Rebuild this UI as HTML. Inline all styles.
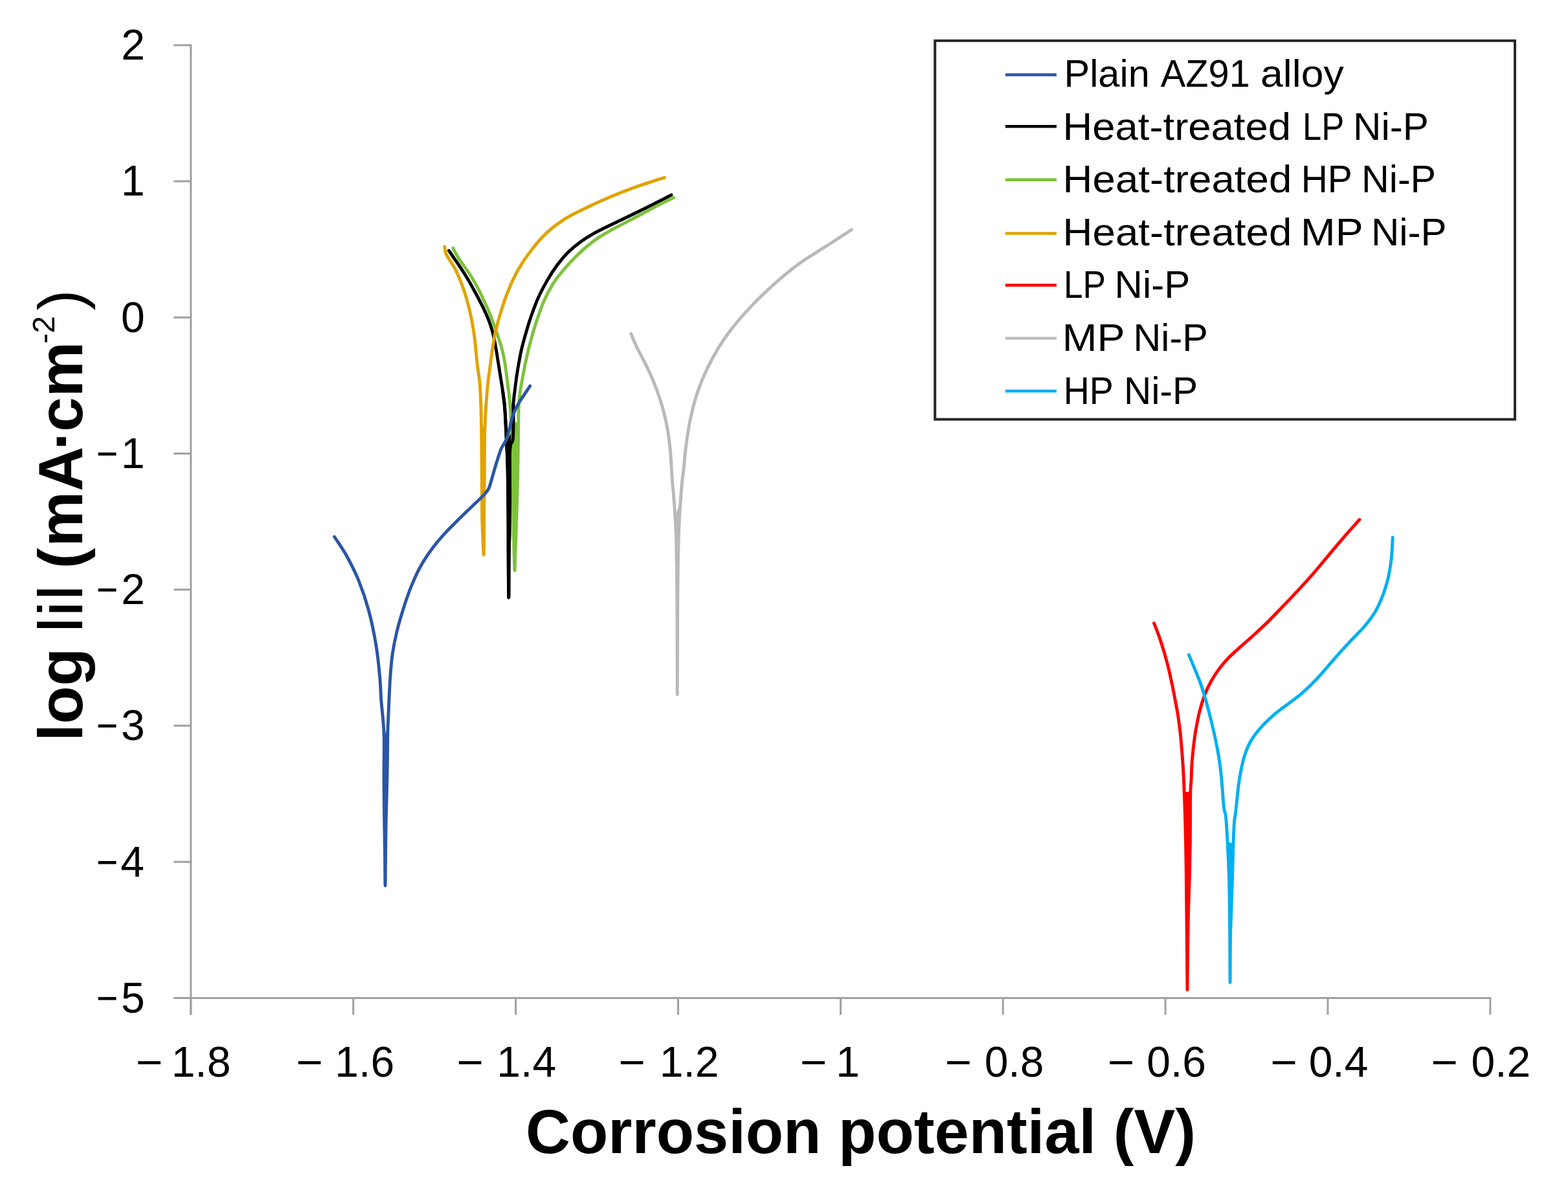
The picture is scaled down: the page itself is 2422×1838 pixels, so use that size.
<!DOCTYPE html>
<html><head><meta charset="utf-8"><title>Polarization curves</title>
<style>html,body{margin:0;padding:0;background:#fff;}svg{display:block;}</style>
</head><body>
<svg width="2422" height="1838" viewBox="0 0 2422 1838">
<rect width="2422" height="1838" fill="#fff"/>
<g stroke="#a0a0a0" stroke-width="3" fill="none" stroke-linecap="butt">
<line x1="294.8" y1="68.3" x2="294.8" y2="1567.4"/>
<line x1="268.3" y1="1541.4" x2="2303.4" y2="1541.4"/>
<line x1="268.3" y1="1541.4" x2="294.8" y2="1541.4"/>
<line x1="268.3" y1="1331.2" x2="294.8" y2="1331.2"/>
<line x1="268.3" y1="1120.9" x2="294.8" y2="1120.9"/>
<line x1="268.3" y1="910.7" x2="294.8" y2="910.7"/>
<line x1="268.3" y1="700.5" x2="294.8" y2="700.5"/>
<line x1="268.3" y1="490.3" x2="294.8" y2="490.3"/>
<line x1="268.3" y1="280.0" x2="294.8" y2="280.0"/>
<line x1="268.3" y1="69.8" x2="294.8" y2="69.8"/>
<line x1="294.8" y1="1541.4" x2="294.8" y2="1567.4"/>
<line x1="545.7" y1="1541.4" x2="545.7" y2="1567.4"/>
<line x1="796.6" y1="1541.4" x2="796.6" y2="1567.4"/>
<line x1="1047.5" y1="1541.4" x2="1047.5" y2="1567.4"/>
<line x1="1298.4" y1="1541.4" x2="1298.4" y2="1567.4"/>
<line x1="1549.2" y1="1541.4" x2="1549.2" y2="1567.4"/>
<line x1="1800.1" y1="1541.4" x2="1800.1" y2="1567.4"/>
<line x1="2051.0" y1="1541.4" x2="2051.0" y2="1567.4"/>
<line x1="2301.9" y1="1541.4" x2="2301.9" y2="1567.4"/>
</g>
<g font-family="'Liberation Sans', sans-serif" font-size="66" fill="#000">
<text x="149.1" y="1563.7" textLength="33.4" lengthAdjust="spacingAndGlyphs">−</text>
<text x="223.8" y="1563.7" text-anchor="end">5</text>
<text x="149.1" y="1353.5" textLength="33.4" lengthAdjust="spacingAndGlyphs">−</text>
<text x="222.9" y="1353.5" text-anchor="end">4</text>
<text x="149.1" y="1143.2" textLength="33.4" lengthAdjust="spacingAndGlyphs">−</text>
<text x="223.8" y="1143.2" text-anchor="end">3</text>
<text x="149.1" y="933.0" textLength="33.4" lengthAdjust="spacingAndGlyphs">−</text>
<text x="224.0" y="933.0" text-anchor="end">2</text>
<text x="149.1" y="722.8" textLength="33.4" lengthAdjust="spacingAndGlyphs">−</text>
<text x="223.8" y="722.8" text-anchor="end">1</text>
<text x="223.8" y="512.6" text-anchor="end">0</text>
<text x="223.8" y="302.3" text-anchor="end">1</text>
<text x="224.0" y="92.1" text-anchor="end">2</text>
<text x="210.0" y="1662.5" textLength="41.6" lengthAdjust="spacingAndGlyphs">−</text>
<text x="356.4" y="1662.5" text-anchor="end">1.8</text>
<text x="457.4" y="1662.5" textLength="41.6" lengthAdjust="spacingAndGlyphs">−</text>
<text x="609.1" y="1662.5" text-anchor="end">1.6</text>
<text x="705.6" y="1662.5" textLength="41.6" lengthAdjust="spacingAndGlyphs">−</text>
<text x="859.1" y="1662.5" text-anchor="end">1.4</text>
<text x="955.4" y="1662.5" textLength="41.6" lengthAdjust="spacingAndGlyphs">−</text>
<text x="1110.5" y="1662.5" text-anchor="end">1.2</text>
<text x="1235.9" y="1662.5" textLength="41.6" lengthAdjust="spacingAndGlyphs">−</text>
<text x="1328.0" y="1662.5" text-anchor="end">1</text>
<text x="1459.7" y="1662.5" textLength="41.6" lengthAdjust="spacingAndGlyphs">−</text>
<text x="1612.4" y="1662.5" text-anchor="end">0.8</text>
<text x="1711.1" y="1662.5" textLength="41.6" lengthAdjust="spacingAndGlyphs">−</text>
<text x="1863.0" y="1662.5" text-anchor="end">0.6</text>
<text x="1962.4" y="1662.5" textLength="41.6" lengthAdjust="spacingAndGlyphs">−</text>
<text x="2113.4" y="1662.5" text-anchor="end">0.4</text>
<text x="2210.4" y="1662.5" textLength="41.6" lengthAdjust="spacingAndGlyphs">−</text>
<text x="2364.2" y="1662.5" text-anchor="end">0.2</text>
</g>
<text x="812" y="1781" font-family="'Liberation Sans', sans-serif" font-weight="bold" font-size="96" textLength="1035" lengthAdjust="spacingAndGlyphs">Corrosion potential (V)</text>
<text transform="translate(127,1145) rotate(-90)" font-family="'Liberation Sans', sans-serif" font-weight="bold" font-size="96"><tspan x="0.2" y="0">log </tspan><tspan x="167.5" y="0" font-weight="normal" textLength="74.5" lengthAdjust="spacingAndGlyphs">lil</tspan><tspan x="266.7" y="0">(</tspan><tspan x="300.6" y="0">mA</tspan><tspan x="449.8" y="0">·</tspan><tspan x="478.25" y="0">cm</tspan><tspan x="614.2" y="-43" font-size="48" font-weight="normal">-2</tspan><tspan x="665.4" y="0" font-weight="normal">)</tspan></text>
<g fill="none" stroke-width="4.9" stroke-linejoin="round" stroke-linecap="round">
<path d="M782.5,682.9 C782.8,690.2 783.8,708.6 784.2,727.0 C784.6,745.4 784.8,770.8 785.0,793.0 C785.2,815.2 785.1,838.3 785.2,860.0 C785.3,881.7 785.6,923.0 785.8,923.0 C786.0,923.0 785.9,881.7 786.2,860.0 C786.5,838.3 787.4,815.2 787.6,793.0 C787.8,770.8 787.5,742.5 787.5,727.0 C787.5,711.5 787.2,706.8 787.5,700.0 C787.8,693.2 788.2,689.3 789.0,686.0 C789.8,682.7 791.4,684.3 792.0,680.0 C792.6,675.7 792.8,663.3 792.9,660.0 Z" fill="#000000" stroke="none"/>
<path d="M693.3,387.0 C694.8,389.1 699.1,395.4 702.0,399.8 C705.0,404.1 707.9,408.2 711.2,413.2 C714.5,418.2 718.1,423.7 721.8,429.8 C725.4,436.0 729.7,443.5 733.2,450.0 C736.8,456.5 740.2,463.1 743.0,468.7 C745.9,474.3 748.1,478.8 750.4,483.9 C752.6,488.9 754.6,493.5 756.4,498.8 C758.2,504.0 759.9,509.0 761.4,515.2 C763.0,521.5 764.3,528.6 765.7,536.1 C767.1,543.6 768.4,552.4 769.6,560.2 C770.9,568.0 772.1,575.5 773.2,582.9 C774.4,590.2 775.6,597.2 776.6,604.3 C777.6,611.4 778.6,618.6 779.3,625.7 C780.0,632.8 780.2,637.5 780.7,647.0 C781.2,656.5 781.9,669.6 782.5,682.9 C783.1,696.2 783.8,708.6 784.2,727.0 C784.6,745.4 784.8,770.8 785.0,793.0 C785.2,815.2 785.1,838.3 785.2,860.0 C785.3,881.7 785.6,923.0 785.8,923.0 C786.0,923.0 785.9,881.7 786.2,860.0 C786.5,838.3 787.4,815.2 787.6,793.0 C787.8,770.8 787.5,742.5 787.5,727.0 C787.5,711.5 787.2,706.8 787.5,700.0 C787.8,693.2 788.2,689.3 789.0,686.0 C789.8,682.7 791.4,684.3 792.0,680.0 C792.6,675.7 792.8,669.0 792.9,660.0 C793.0,651.0 792.4,635.9 792.9,625.7 C793.4,615.5 794.8,606.9 795.7,598.9 C796.7,590.8 797.6,584.0 798.6,577.5 C799.6,570.9 800.6,565.2 801.6,559.6 C802.6,554.0 803.3,549.5 804.6,543.7 C805.9,537.9 807.1,532.9 809.4,524.6 C811.8,516.3 815.0,504.7 818.5,494.1 C822.1,483.6 826.5,471.2 830.9,461.1 C835.3,451.0 840.1,442.1 845.0,433.6 C849.9,425.0 855.0,417.1 860.4,409.8 C865.8,402.5 871.3,395.9 877.4,389.8 C883.5,383.8 890.1,378.4 896.8,373.5 C903.5,368.6 910.4,364.4 917.6,360.4 C924.8,356.3 931.8,353.1 940.0,349.0 C948.1,345.0 957.6,340.6 966.7,336.2 C975.9,331.8 986.4,326.7 995.0,322.5 C1003.6,318.3 1011.5,314.3 1018.5,310.8 C1025.5,307.2 1033.9,302.7 1037.0,301.1" stroke="#000000"/>
<path d="M789.3,647.0 C789.7,652.0 791.0,661.0 791.5,677.0 C792.0,693.0 791.9,718.0 792.2,743.0 C792.5,768.0 793.0,804.2 793.5,827.0 C794.0,849.8 794.6,874.5 795.0,880.0 C795.4,885.5 795.3,868.8 795.6,860.0 C795.9,851.2 796.4,846.5 797.0,827.0 C797.6,807.5 798.9,767.5 799.5,743.0 C800.1,718.5 800.3,694.8 800.5,680.0 C800.7,665.2 800.7,658.6 800.7,654.3 Z" fill="#7dc23a" stroke="none"/>
<path d="M700.0,383.3 C700.7,384.7 702.5,388.9 704.1,391.8 C705.8,394.8 707.4,397.5 709.8,401.0 C712.2,404.6 715.2,408.6 718.4,413.2 C721.6,417.9 725.6,423.1 729.1,428.9 C732.7,434.8 736.5,441.7 739.8,448.2 C743.2,454.7 746.4,461.9 749.1,467.8 C751.9,473.7 754.1,478.6 756.3,483.9 C758.4,489.1 760.0,493.6 762.0,499.2 C764.1,504.9 766.3,510.9 768.5,517.5 C770.8,524.1 773.5,531.8 775.4,539.1 C777.3,546.4 778.8,554.1 780.0,561.4 C781.2,568.7 781.9,575.7 782.9,582.9 C783.8,590.0 784.9,597.2 785.7,604.3 C786.5,611.4 787.3,618.6 787.9,625.7 C788.5,632.8 788.7,638.5 789.3,647.0 C789.9,655.5 791.0,661.0 791.5,677.0 C792.0,693.0 791.9,718.0 792.2,743.0 C792.5,768.0 793.0,804.2 793.5,827.0 C794.0,849.8 794.6,874.5 795.0,880.0 C795.4,885.5 795.3,868.8 795.6,860.0 C795.9,851.2 796.4,846.5 797.0,827.0 C797.6,807.5 798.9,767.5 799.5,743.0 C800.1,718.5 800.3,694.8 800.5,680.0 C800.7,665.2 800.6,663.3 800.7,654.3 C800.9,645.2 800.9,634.0 801.4,625.7 C801.9,617.4 802.6,611.4 803.6,604.3 C804.6,597.2 806.0,590.0 807.3,582.9 C808.6,575.7 809.8,569.1 811.4,561.4 C813.0,553.7 814.6,546.4 817.1,536.7 C819.6,527.0 822.8,514.9 826.5,503.2 C830.3,491.6 834.8,477.6 839.4,466.7 C844.1,455.8 849.2,446.4 854.5,437.8 C859.8,429.3 865.7,422.6 871.5,415.7 C877.3,408.8 883.4,402.3 889.3,396.4 C895.3,390.4 901.2,385.0 907.2,380.0 C913.2,375.0 918.6,370.9 925.1,366.6 C931.5,362.3 938.0,358.8 945.9,354.4 C953.8,350.0 963.8,345.1 972.7,340.4 C981.6,335.7 991.5,330.4 999.5,326.1 C1007.5,321.8 1014.1,318.3 1020.9,314.8 C1027.8,311.3 1037.3,306.9 1040.6,305.3" stroke="#7dc23a"/>
<path d="M776.6,604.3 C777.0,607.9 778.6,618.6 779.3,625.7 C780.0,632.8 780.2,637.5 780.7,647.0 C781.2,656.5 781.9,669.6 782.5,682.9 C783.1,696.2 783.8,708.6 784.2,727.0 C784.6,745.4 784.8,770.8 785.0,793.0 C785.2,815.2 785.1,838.3 785.2,860.0 C785.3,881.7 785.6,923.0 785.8,923.0 C786.0,923.0 785.9,881.7 786.2,860.0 C786.5,838.3 787.4,815.2 787.6,793.0 C787.8,770.8 787.5,742.5 787.5,727.0 C787.5,711.5 787.2,706.8 787.5,700.0 C787.8,693.2 788.2,689.3 789.0,686.0 C789.8,682.7 791.4,684.3 792.0,680.0 C792.6,675.7 792.8,669.0 792.9,660.0 C793.0,651.0 792.9,631.4 792.9,625.7" stroke="#000000"/>
<path d="M743.6,660.0 C743.7,666.7 743.9,686.7 744.0,700.0 C744.1,713.3 744.2,723.3 744.3,740.0 C744.4,756.7 744.4,783.3 744.7,800.0 C745.0,816.7 745.9,830.5 746.3,840.0 C746.7,849.5 746.9,857.0 747.1,857.0 C747.3,857.0 747.6,849.5 747.7,840.0 C747.8,830.5 747.5,816.7 747.6,800.0 C747.7,783.3 748.1,756.7 748.2,740.0 C748.3,723.3 748.3,713.3 748.4,700.0 C748.5,686.7 748.9,666.7 749.0,660.0 Z" fill="#e0a300" stroke="none"/>
<path d="M686.7,380.8 C687.1,382.7 687.6,388.6 688.9,392.1 C690.3,395.7 692.6,398.5 694.8,402.1 C696.9,405.7 699.6,409.0 702.1,413.6 C704.6,418.2 707.1,423.7 709.6,429.8 C712.1,435.9 714.9,443.1 717.2,450.0 C719.5,456.9 721.5,464.0 723.4,471.4 C725.3,478.8 727.1,486.5 728.6,494.3 C730.1,502.1 731.5,510.4 732.6,518.2 C733.7,526.1 734.2,533.6 735.1,541.5 C735.9,549.5 736.6,557.7 737.6,566.2 C738.6,574.7 740.3,581.5 741.2,592.4 C742.1,603.3 742.6,620.4 743.0,631.7 C743.4,643.0 743.4,648.6 743.6,660.0 C743.8,671.4 743.9,686.7 744.0,700.0 C744.1,713.3 744.2,723.3 744.3,740.0 C744.4,756.7 744.4,783.3 744.7,800.0 C745.0,816.7 745.9,830.5 746.3,840.0 C746.7,849.5 746.9,857.0 747.1,857.0 C747.3,857.0 747.6,849.5 747.7,840.0 C747.8,830.5 747.5,816.7 747.6,800.0 C747.7,783.3 748.1,756.7 748.2,740.0 C748.3,723.3 748.3,713.3 748.4,700.0 C748.5,686.7 748.6,671.7 749.0,660.0 C749.4,648.3 750.0,638.3 750.5,630.0 C751.0,621.7 751.5,616.6 752.0,610.0 C752.5,603.4 752.9,597.5 753.8,590.2 C754.6,583.0 755.9,574.4 757.0,566.2 C758.1,558.0 759.1,549.3 760.4,540.8 C761.7,532.3 762.7,524.7 764.7,515.3 C766.8,505.9 769.4,495.6 772.8,484.6 C776.1,473.6 780.3,460.6 785.0,449.2 C789.6,437.8 794.5,426.9 800.4,416.5 C806.3,406.1 812.8,396.4 820.3,386.9 C827.7,377.3 836.1,367.4 845.0,359.1 C853.9,350.9 863.5,343.9 873.9,337.4 C884.2,330.9 895.7,325.7 907.2,320.2 C918.7,314.6 930.5,309.3 942.9,304.1 C955.3,298.9 967.8,293.9 981.7,288.9 C995.5,283.9 1018.9,276.7 1026.3,274.3" stroke="#e0a300"/>
<path d="M1043.0,800.0 C1043.3,806.2 1044.2,820.3 1044.6,837.0 C1045.0,853.7 1045.4,879.5 1045.6,900.0 C1045.8,920.5 1045.9,931.2 1046.0,960.0 C1046.1,988.8 1046.1,1072.6 1046.2,1072.6 C1046.3,1072.6 1046.5,988.8 1046.6,960.0 C1046.7,931.2 1046.8,920.5 1047.0,900.0 C1047.2,879.5 1047.6,853.7 1048.0,837.0 C1048.4,820.3 1048.9,811.2 1049.5,800.0 C1050.1,788.8 1051.2,775.0 1051.5,770.0 Z" fill="#b9b9b9" stroke="none"/>
<path d="M974.7,515.4 C976.2,518.8 980.3,529.3 983.5,536.0 C986.7,542.8 990.3,548.9 994.0,556.2 C997.6,563.4 1001.5,570.7 1005.3,579.4 C1009.1,588.1 1013.1,598.1 1016.6,608.2 C1020.1,618.3 1023.6,629.5 1026.2,639.9 C1028.8,650.3 1030.7,660.0 1032.3,670.5 C1033.9,681.0 1034.9,691.0 1035.9,702.6 C1036.8,714.2 1037.4,729.6 1038.2,740.0 C1039.0,750.4 1039.7,755.0 1040.5,765.0 C1041.3,775.0 1042.3,788.0 1043.0,800.0 C1043.7,812.0 1044.2,820.3 1044.6,837.0 C1045.0,853.7 1045.4,879.5 1045.6,900.0 C1045.8,920.5 1045.9,931.2 1046.0,960.0 C1046.1,988.8 1046.1,1072.6 1046.2,1072.6 C1046.3,1072.6 1046.5,988.8 1046.6,960.0 C1046.7,931.2 1046.8,920.5 1047.0,900.0 C1047.2,879.5 1047.6,853.7 1048.0,837.0 C1048.4,820.3 1048.9,811.2 1049.5,800.0 C1050.1,788.8 1050.8,779.2 1051.5,770.0 C1052.2,760.8 1052.8,752.5 1053.5,745.0 C1054.2,737.5 1055.1,733.4 1056.0,725.0 C1056.9,716.6 1057.5,706.0 1059.0,694.4 C1060.4,682.7 1062.4,668.1 1064.8,655.2 C1067.3,642.4 1070.3,629.1 1073.8,617.3 C1077.2,605.5 1081.1,595.2 1085.6,584.5 C1090.1,573.7 1095.2,563.2 1100.9,552.8 C1106.5,542.4 1112.9,531.9 1119.6,522.2 C1126.3,512.5 1133.7,503.2 1141.1,494.5 C1148.4,485.7 1156.0,477.6 1163.7,469.6 C1171.4,461.6 1179.5,453.7 1187.5,446.4 C1195.4,439.0 1203.7,431.7 1211.2,425.4 C1218.8,419.1 1225.2,413.9 1232.8,408.4 C1240.3,403.0 1247.8,398.3 1256.5,392.6 C1265.3,386.9 1275.6,380.5 1285.4,374.2 C1295.2,367.9 1310.4,357.9 1315.4,354.7" stroke="#b9b9b9"/>
<path d="M1829.2,1223.0 C1829.4,1229.2 1830.1,1247.2 1830.5,1260.0 C1830.9,1272.8 1831.2,1285.0 1831.5,1300.0 C1831.8,1315.0 1832.1,1333.3 1832.3,1350.0 C1832.5,1366.7 1832.6,1385.0 1832.8,1400.0 C1833.0,1415.0 1833.1,1426.7 1833.2,1440.0 C1833.3,1453.3 1833.5,1465.2 1833.6,1480.0 C1833.7,1494.8 1833.9,1528.8 1834.0,1528.8 C1834.1,1528.8 1834.2,1494.8 1834.4,1480.0 C1834.6,1465.2 1834.8,1453.3 1835.0,1440.0 C1835.2,1426.7 1835.4,1415.0 1835.8,1400.0 C1836.2,1385.0 1837.0,1366.7 1837.4,1350.0 C1837.8,1333.3 1838.2,1315.0 1838.4,1300.0 C1838.6,1285.0 1838.5,1272.8 1838.6,1260.0 C1838.7,1247.2 1838.8,1229.2 1838.8,1223.0 Z" fill="#ff0000" stroke="none"/>
<path d="M1782.5,962.5 C1783.8,965.7 1787.5,974.8 1790.0,981.9 C1792.5,989.0 1795.1,997.0 1797.5,1005.0 C1799.9,1013.0 1802.3,1021.7 1804.4,1030.0 C1806.5,1038.3 1808.2,1046.7 1810.0,1055.0 C1811.8,1063.3 1813.4,1071.5 1815.0,1080.0 C1816.6,1088.5 1818.3,1097.0 1819.7,1106.2 C1821.1,1115.5 1822.4,1125.6 1823.5,1135.6 C1824.5,1145.6 1825.3,1156.4 1826.1,1166.2 C1826.9,1176.1 1827.5,1185.5 1828.0,1195.0 C1828.5,1204.5 1828.8,1212.2 1829.2,1223.0 C1829.6,1233.8 1830.1,1247.2 1830.5,1260.0 C1830.9,1272.8 1831.2,1285.0 1831.5,1300.0 C1831.8,1315.0 1832.1,1333.3 1832.3,1350.0 C1832.5,1366.7 1832.6,1385.0 1832.8,1400.0 C1833.0,1415.0 1833.1,1426.7 1833.2,1440.0 C1833.3,1453.3 1833.5,1465.2 1833.6,1480.0 C1833.7,1494.8 1833.9,1528.8 1834.0,1528.8 C1834.1,1528.8 1834.2,1494.8 1834.4,1480.0 C1834.6,1465.2 1834.8,1453.3 1835.0,1440.0 C1835.2,1426.7 1835.4,1415.0 1835.8,1400.0 C1836.2,1385.0 1837.0,1366.7 1837.4,1350.0 C1837.8,1333.3 1838.2,1315.0 1838.4,1300.0 C1838.6,1285.0 1838.5,1272.8 1838.6,1260.0 C1838.7,1247.2 1838.6,1232.2 1838.8,1223.0 C1839.0,1213.8 1839.6,1212.2 1840.0,1205.0 C1840.4,1197.8 1840.4,1188.3 1841.0,1180.0 C1841.6,1171.7 1842.3,1163.6 1843.3,1155.0 C1844.3,1146.4 1845.4,1137.4 1847.0,1128.1 C1848.6,1118.9 1850.6,1108.4 1852.8,1099.4 C1855.1,1090.3 1857.7,1081.6 1860.6,1073.8 C1863.6,1065.9 1866.9,1059.3 1870.6,1052.5 C1874.4,1045.7 1878.5,1039.3 1883.1,1033.1 C1887.7,1027.0 1892.7,1021.2 1898.1,1015.6 C1903.5,1010.0 1909.3,1005.1 1915.6,999.4 C1922.0,993.6 1929.1,987.8 1936.2,981.2 C1943.4,974.7 1951.2,967.4 1958.8,960.0 C1966.2,952.6 1973.5,944.9 1981.2,936.9 C1989.0,928.9 1997.1,920.4 2005.0,911.9 C2012.9,903.3 2021.0,894.5 2028.8,885.6 C2036.5,876.8 2043.5,867.9 2051.2,858.8 C2059.0,849.6 2066.9,840.0 2075.0,830.6 C2083.1,821.2 2095.8,807.2 2100.0,802.5" stroke="#ff0000"/>
<path d="M1896.0,1300.0 C1896.4,1309.5 1898.0,1339.2 1898.5,1357.0 C1899.0,1374.8 1899.1,1391.5 1899.3,1407.0 C1899.5,1422.5 1899.6,1431.6 1899.7,1450.0 C1899.8,1468.4 1900.0,1517.5 1900.1,1517.5 C1900.2,1517.5 1900.2,1468.4 1900.5,1450.0 C1900.8,1431.6 1901.3,1422.5 1901.8,1407.0 C1902.3,1391.5 1903.0,1374.3 1903.5,1357.0 C1904.0,1339.7 1904.8,1312.0 1905.0,1303.0 Z" fill="#00b0f0" stroke="none"/>
<path d="M1836.3,1011.3 C1837.8,1014.9 1842.3,1025.4 1845.3,1032.8 C1848.3,1040.2 1851.5,1047.6 1854.4,1055.6 C1857.2,1063.7 1859.9,1072.2 1862.5,1081.2 C1865.1,1090.3 1867.6,1100.4 1870.0,1110.0 C1872.4,1119.6 1874.8,1129.6 1876.8,1138.8 C1878.7,1147.9 1880.4,1156.1 1881.9,1164.8 C1883.4,1173.5 1884.6,1182.2 1885.6,1191.0 C1886.7,1199.7 1887.4,1209.5 1888.0,1217.3 C1888.7,1225.2 1889.0,1232.3 1889.5,1238.0 C1890.0,1243.7 1890.5,1247.5 1891.2,1251.5 C1891.8,1255.5 1892.7,1253.9 1893.5,1262.0 C1894.3,1270.1 1895.2,1284.2 1896.0,1300.0 C1896.8,1315.8 1898.0,1339.2 1898.5,1357.0 C1899.0,1374.8 1899.1,1391.5 1899.3,1407.0 C1899.5,1422.5 1899.6,1431.6 1899.7,1450.0 C1899.8,1468.4 1900.0,1517.5 1900.1,1517.5 C1900.2,1517.5 1900.2,1468.4 1900.5,1450.0 C1900.8,1431.6 1901.3,1422.5 1901.8,1407.0 C1902.3,1391.5 1903.0,1374.3 1903.5,1357.0 C1904.0,1339.7 1904.5,1317.5 1905.0,1303.0 C1905.5,1288.5 1905.9,1278.0 1906.5,1270.0 C1907.1,1262.0 1907.9,1260.5 1908.6,1255.0 C1909.2,1249.5 1909.8,1243.8 1910.5,1236.8 C1911.3,1229.7 1912.0,1220.9 1913.1,1212.8 C1914.2,1204.6 1915.7,1195.6 1917.3,1187.8 C1918.9,1179.9 1920.5,1172.6 1922.9,1165.5 C1925.3,1158.4 1927.7,1152.0 1931.8,1145.0 C1935.8,1138.0 1941.3,1130.7 1947.5,1123.8 C1953.7,1116.8 1961.7,1109.3 1968.8,1103.1 C1975.8,1097.0 1982.9,1092.3 1990.0,1086.9 C1997.1,1081.5 2003.8,1077.2 2011.2,1070.6 C2018.8,1064.1 2026.9,1056.1 2035.0,1047.5 C2043.1,1038.9 2051.7,1028.1 2060.0,1018.8 C2068.3,1009.4 2077.1,999.8 2085.0,991.2 C2092.9,982.7 2100.9,975.3 2107.5,967.5 C2114.1,959.7 2119.6,952.5 2124.4,944.4 C2129.2,936.2 2132.9,927.5 2136.2,918.8 C2139.6,910.0 2142.2,901.0 2144.4,891.9 C2146.5,882.7 2147.9,874.1 2149.1,863.8 C2150.2,853.4 2150.9,835.6 2151.3,830.0" stroke="#00b0f0"/>
<path d="M593.3,1140.0 C593.2,1150.0 593.0,1180.0 593.0,1200.0 C593.0,1220.0 593.4,1240.0 593.6,1260.0 C593.9,1280.0 594.3,1302.0 594.5,1320.0 C594.7,1338.0 594.8,1368.0 595.0,1368.0 C595.2,1368.0 595.4,1338.0 595.6,1320.0 C595.8,1302.0 596.0,1280.0 596.4,1260.0 C596.8,1240.0 597.6,1220.0 598.0,1200.0 C598.4,1180.0 598.6,1153.2 598.8,1140.0 C599.0,1126.8 599.1,1124.2 599.2,1121.0 Z" fill="#2b55a6" stroke="none"/>
<path d="M516.5,829.0 C519.6,833.9 529.2,847.3 535.4,858.5 C541.6,869.7 548.1,882.2 553.8,896.2 C559.4,910.2 564.9,926.0 569.4,942.5 C573.9,959.0 577.8,978.1 580.6,995.0 C583.5,1011.9 585.2,1029.6 586.5,1043.8 C587.9,1057.9 587.9,1069.0 588.7,1080.0 C589.5,1091.0 590.7,1100.0 591.5,1110.0 C592.3,1120.0 593.0,1125.0 593.3,1140.0 C593.5,1155.0 593.0,1180.0 593.0,1200.0 C593.0,1220.0 593.4,1240.0 593.6,1260.0 C593.9,1280.0 594.3,1302.0 594.5,1320.0 C594.7,1338.0 594.8,1368.0 595.0,1368.0 C595.2,1368.0 595.4,1338.0 595.6,1320.0 C595.8,1302.0 596.0,1280.0 596.4,1260.0 C596.8,1240.0 597.6,1220.0 598.0,1200.0 C598.4,1180.0 598.6,1153.2 598.8,1140.0 C599.0,1126.8 598.8,1131.0 599.2,1121.0 C599.6,1111.0 600.4,1093.1 601.0,1080.0 C601.6,1066.9 602.1,1054.4 603.0,1042.5 C603.9,1030.6 604.7,1020.0 606.4,1008.8 C608.1,997.5 610.3,986.5 613.1,975.0 C615.9,963.5 619.5,951.5 623.1,940.0 C626.8,928.5 630.7,916.9 635.0,906.2 C639.3,895.6 643.6,885.6 648.8,876.2 C653.9,866.9 659.6,858.3 665.6,850.0 C671.7,841.7 678.2,833.9 685.0,826.2 C691.8,818.6 699.0,811.6 706.2,804.4 C713.5,797.1 721.8,789.2 728.4,782.9 C735.0,776.5 741.4,770.7 745.7,766.1 C750.1,761.5 752.3,759.3 754.5,755.4 C756.7,751.4 757.3,747.3 758.9,742.2 C760.5,737.0 762.3,730.3 764.0,724.4 C765.7,718.5 767.7,711.9 769.4,706.7 C771.1,701.4 772.6,696.7 774.2,693.0 C775.8,689.3 777.4,687.4 778.9,684.7 C780.4,682.0 781.7,680.7 783.0,676.9 C784.4,673.1 785.5,667.8 787.0,662.0 C788.4,656.3 789.9,648.5 792.0,642.4 C794.2,636.2 796.8,630.5 799.8,625.1 C802.7,619.7 806.4,614.8 809.6,609.9 C812.8,605.1 817.3,598.3 818.8,596.0" stroke="#2b55a6"/>
</g>
<rect x="1444.2" y="62.9" width="895.8" height="584.8" fill="#fff" stroke="#282828" stroke-width="4"/>
<g font-family="'Liberation Sans', sans-serif" font-size="59" fill="#000">
<line x1="1553" y1="115.5" x2="1632" y2="115.5" stroke="#2b55a6" stroke-width="4.6"/>
<text y="134.1"><tspan x="1643.4" textLength="132.5" lengthAdjust="spacingAndGlyphs">Plain</tspan> <tspan x="1792.7" textLength="138.1" lengthAdjust="spacingAndGlyphs">AZ91</tspan> <tspan x="1947.1" textLength="128.6" lengthAdjust="spacingAndGlyphs">alloy</tspan></text>
<line x1="1553" y1="195.2" x2="1632" y2="195.2" stroke="#000000" stroke-width="4.6"/>
<text y="215.7"><tspan x="1641.4" textLength="352.7" lengthAdjust="spacingAndGlyphs">Heat-treated</tspan> <tspan x="2011.9" textLength="63.4" lengthAdjust="spacingAndGlyphs">LP</tspan> <tspan x="2090.0" textLength="116.9" lengthAdjust="spacingAndGlyphs">Ni-P</tspan></text>
<line x1="1553" y1="277.6" x2="1632" y2="277.6" stroke="#7dc23a" stroke-width="4.6"/>
<text y="297.2"><tspan x="1641.6" textLength="353.7" lengthAdjust="spacingAndGlyphs">Heat-treated</tspan> <tspan x="2009.7" textLength="78.1" lengthAdjust="spacingAndGlyphs">HP</tspan> <tspan x="2103.0" textLength="115.1" lengthAdjust="spacingAndGlyphs">Ni-P</tspan></text>
<line x1="1553" y1="360.5" x2="1632" y2="360.5" stroke="#e0a300" stroke-width="4.6"/>
<text y="378.8"><tspan x="1641.6" textLength="353.7" lengthAdjust="spacingAndGlyphs">Heat-treated</tspan> <tspan x="2009.1" textLength="95.4" lengthAdjust="spacingAndGlyphs">MP</tspan> <tspan x="2117.9" textLength="116.6" lengthAdjust="spacingAndGlyphs">Ni-P</tspan></text>
<line x1="1553" y1="440.5" x2="1632" y2="440.5" stroke="#ff0000" stroke-width="4.6"/>
<text y="460.4"><tspan x="1642.9" textLength="64.1" lengthAdjust="spacingAndGlyphs">LP</tspan> <tspan x="1721.6" textLength="116.8" lengthAdjust="spacingAndGlyphs">Ni-P</tspan></text>
<line x1="1553" y1="522.5" x2="1632" y2="522.5" stroke="#bebebe" stroke-width="4.6"/>
<text y="541.9"><tspan x="1640.7" textLength="95.7" lengthAdjust="spacingAndGlyphs">MP</tspan> <tspan x="1750.4" textLength="115.4" lengthAdjust="spacingAndGlyphs">Ni-P</tspan></text>
<line x1="1553" y1="604.0" x2="1632" y2="604.0" stroke="#00b0f0" stroke-width="4.6"/>
<text y="623.5"><tspan x="1642.7" textLength="76.2" lengthAdjust="spacingAndGlyphs">HP</tspan> <tspan x="1736.1" textLength="114.0" lengthAdjust="spacingAndGlyphs">Ni-P</tspan></text>
</g>
</svg>
</body></html>
